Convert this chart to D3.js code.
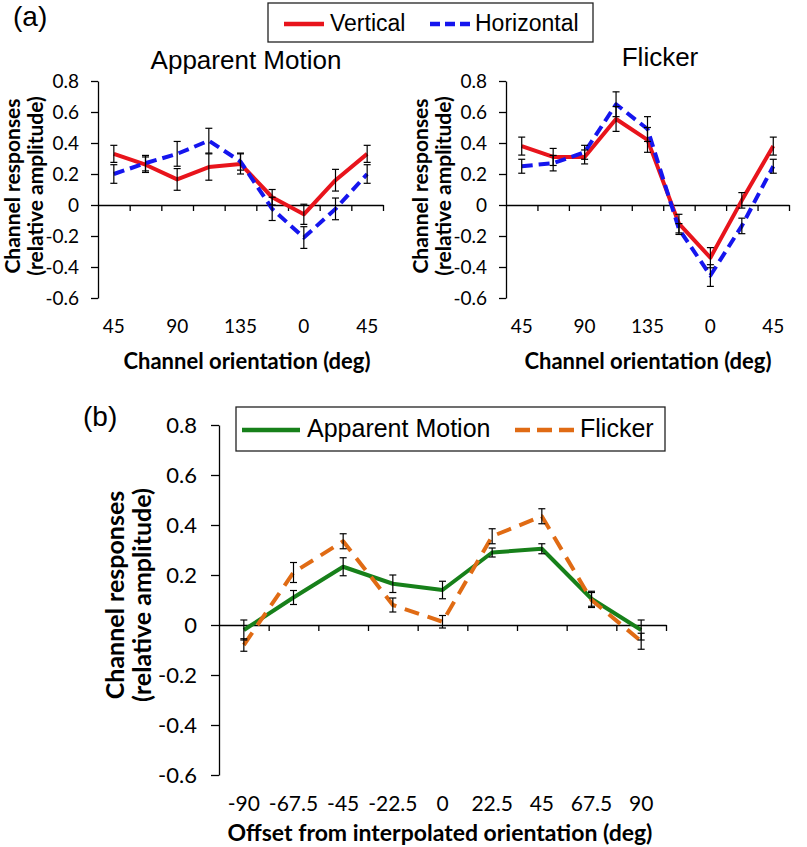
<!DOCTYPE html>
<html><head><meta charset="utf-8">
<script src="https://cdn.jsdelivr.net/npm/d3@7"></script>
<style>body{margin:0;background:#fff}svg{display:block}</style>
</head><body>
<svg id="chart" width="807" height="847"></svg>
<script>
// ---------- data ----------
const categoriesA = ["45","67.5","90","112.5","135","157.5","0","22.5","45"];
const tickLabelsA = ["45","90","135","0","45"];
const tickIndexA = [0,2,4,6,8];

const amVertical      = [0.33, 0.26, 0.165, 0.245, 0.265, 0.05, -0.06, 0.16, 0.33];
const amVerticalErr   = [0.055, 0.05, 0.07, 0.085, 0.065, 0.05, 0.065, 0.07, 0.055];
const amHorizontal    = [0.20, 0.27, 0.33, 0.415, 0.28, -0.025, -0.21, -0.025, 0.20];
const amHorizontalErr = [0.06, 0.05, 0.08, 0.08, 0.055, 0.075, 0.07, 0.07, 0.06];

const flVertical      = [0.38, 0.31, 0.31, 0.555, 0.42, -0.12, -0.34, 0.03, 0.38];
const flVerticalErr   = [0.058, 0.055, 0.045, 0.08, 0.08, 0.06, 0.065, 0.05, 0.058];
const flHorizontal    = [0.25, 0.27, 0.34, 0.65, 0.49, -0.155, -0.455, -0.135, 0.25];
const flHorizontalErr = [0.045, 0.05, 0.045, 0.08, 0.08, 0.035, 0.07, 0.05, 0.045];

const categoriesB = ["-90","-67.5","-45","-22.5","0","22.5","45","67.5","90"];
const bApparent    = [-0.02, 0.11, 0.233, 0.165, 0.14, 0.29, 0.305, 0.105, -0.02];
const bApparentErr = [0.04, 0.028, 0.036, 0.035, 0.035, 0.018, 0.02, 0.03, 0.04];
const bFlicker     = [-0.08, 0.21, 0.335, 0.08, 0.013, 0.355, 0.435, 0.10, -0.065];
const bFlickerErr  = [0.025, 0.04, 0.03, 0.028, 0.025, 0.03, 0.03, 0.03, 0.032];

const yTicks = [-0.6,-0.4,-0.2,0,0.2,0.4,0.6,0.8];
const yTickLabels = ["-0.6","-0.4","-0.2","0","0.2","0.4","0.6","0.8"];

// ---------- style ----------
const RED = "#e8141c", BLUE = "#1515ee", GREEN = "#17801a", ORANGE = "#e06b14";
const TICKFONT = "Lato, 'Liberation Sans', sans-serif";
const TITLEFONT = "'Liberation Sans', Arial, sans-serif";

const svg = d3.select("#chart");

function panel(cfg){
  const g = svg.append("g");
  const x = d3.scaleBand().domain(d3.range(cfg.cats.length)).range([cfg.x0, cfg.x1]).padding(0);
  const xb = d3.scaleLinear().domain([0, cfg.cats.length]).range([cfg.x0, cfg.x1]);
  const y = d3.scaleLinear().domain([-0.6, 0.8]).range([cfg.yBot, cfg.yTop]);
  const cx = i => x(i) + x.bandwidth()/2;

  // y axis
  const ya = d3.axisLeft(y).tickValues(yTicks)
      .tickFormat((d,i)=>yTickLabels[i]).tickSizeInner(cfg.yTickLen).tickSizeOuter(0).tickPadding(cfg.yPad);
  const yg = g.append("g").attr("transform",`translate(${cfg.x0},0)`).call(ya);
  yg.selectAll("path,line").attr("stroke","#000").attr("stroke-width",1.3);
  yg.selectAll("text").attr("font-family",TICKFONT).attr("font-size",cfg.yFont).attr("fill","#000");

  // x axis at zero with ticks at category boundaries
  const xa = d3.axisBottom(xb).tickValues(d3.range(1, cfg.cats.length+1))
      .tickFormat("").tickSizeInner(6).tickSizeOuter(0);
  const xg = g.append("g").attr("transform",`translate(0,${y(0)})`).call(xa);
  xg.selectAll("path,line").attr("stroke","#000").attr("stroke-width",1.3);

  // x tick labels
  g.append("g").selectAll("text").data(cfg.xLabelIdx).join("text")
    .attr("x", d=>cx(d)).attr("y", cfg.xLabelY)
    .attr("text-anchor","middle").attr("font-family",TICKFONT).attr("font-size",cfg.xFont)
    .text((d,i)=>cfg.xLabels[i]);

  // lines
  const line = d3.line().x((d,i)=>cx(i)).y(d=>y(d));
  cfg.series.forEach(s=>{
    g.append("path").datum(s.values).attr("d",line).attr("fill","none")
      .attr("stroke",s.color).attr("stroke-width",s.width)
      .attr("stroke-dasharray",s.dash||null).attr("stroke-linejoin","round");
  });
  // error bars
  cfg.series.forEach(s=>{
    const eg = g.append("g").attr("stroke","#000").attr("stroke-width",1.2);
    s.values.forEach((v,i)=>{
      const e = s.err[i], X = cx(i);
      eg.append("line").attr("x1",X).attr("x2",X).attr("y1",y(v+e)).attr("y2",y(v-e));
      eg.append("line").attr("x1",X-3.5).attr("x2",X+3.5).attr("y1",y(v+e)).attr("y2",y(v+e));
      eg.append("line").attr("x1",X-3.5).attr("x2",X+3.5).attr("y1",y(v-e)).attr("y2",y(v-e));
    });
  });

  // y title
  cfg.yTitle.forEach(t=>{
    g.append("text").attr("transform",`translate(${t.x},${cfg.yTitleCy}) rotate(-90)`)
      .attr("text-anchor","middle").attr("font-family",TICKFONT).attr("font-weight","bold")
      .attr("font-size",cfg.yTitleFont).text(t.text);
  });
  // x title
  g.append("text").attr("x",cfg.xTitleX).attr("y",cfg.xTitleY).attr("text-anchor","middle")
    .attr("font-family",TICKFONT).attr("font-weight","bold").attr("font-size",cfg.xTitleFont)
    .text(cfg.xTitle);
  // panel title
  if(cfg.title){
    g.append("text").attr("x",cfg.title.x).attr("y",cfg.title.y).attr("text-anchor","middle")
      .attr("font-family",TITLEFONT).attr("font-size",26).text(cfg.title.text);
  }
}

panel({cats:categoriesA, x0:98, x1:383, yTop:81, yBot:298, yTickLen:7, yPad:12, yFont:19,
  xLabelIdx:tickIndexA, xLabels:tickLabelsA, xLabelY:333, xFont:19,
  series:[{values:amVertical, err:amVerticalErr, color:RED, width:4},
          {values:amHorizontal, err:amHorizontalErr, color:BLUE, width:4, dash:"11,6"}],
  yTitle:[{x:20,text:"Channel responses"},{x:43,text:"(relative amplitude)"}], yTitleCy:186, yTitleFont:21,
  xTitle:"Channel orientation (deg)", xTitleX:247, xTitleY:369, xTitleFont:22,
  title:{text:"Apparent Motion", x:246, y:69}});

panel({cats:categoriesA, x0:506, x1:789, yTop:81, yBot:298, yTickLen:7, yPad:12, yFont:19,
  xLabelIdx:tickIndexA, xLabels:tickLabelsA, xLabelY:333, xFont:19,
  series:[{values:flVertical, err:flVerticalErr, color:RED, width:4},
          {values:flHorizontal, err:flHorizontalErr, color:BLUE, width:4, dash:"11,6"}],
  yTitle:[{x:428,text:"Channel responses"},{x:451,text:"(relative amplitude)"}], yTitleCy:186, yTitleFont:21,
  xTitle:"Channel orientation (deg)", xTitleX:648, xTitleY:369, xTitleFont:22,
  title:{text:"Flicker", x:660, y:66}});

panel({cats:categoriesB, x0:219, x1:666, yTop:425, yBot:775, yTickLen:8, yPad:14, yFont:22,
  xLabelIdx:d3.range(categoriesB.length), xLabels:categoriesB, xLabelY:811, xFont:21,
  series:[{values:bApparent, err:bApparentErr, color:GREEN, width:4},
          {values:bFlicker, err:bFlickerErr, color:ORANGE, width:4, dash:"15,9"}],
  yTitle:[{x:124,text:"Channel responses"},{x:151,text:"(relative amplitude)"}], yTitleCy:595, yTitleFont:25,
  xTitle:"Offset from interpolated orientation (deg)", xTitleX:440, xTitleY:841, xTitleFont:23,
  title:null});

// panel letters
svg.append("text").attr("x",13).attr("y",26).attr("font-family",TITLEFONT).attr("font-size",28).text("(a)");
svg.append("text").attr("x",83).attr("y",426).attr("font-family",TITLEFONT).attr("font-size",28).text("(b)");

// legends
function legend(box, items, fontSize, baseline, lineY){
  const g = svg.append("g");
  g.append("rect").attr("x",box[0]).attr("y",box[1]).attr("width",box[2]-box[0]).attr("height",box[3]-box[1])
    .attr("fill","#fff").attr("stroke","#222").attr("stroke-width",1.3);
  items.forEach(it=>{
    g.append("line").attr("x1",it.l0).attr("x2",it.l1).attr("y1",lineY).attr("y2",lineY)
      .attr("stroke",it.color).attr("stroke-width",4.5).attr("stroke-dasharray",it.dash||null);
    g.append("text").attr("x",it.tx).attr("y",baseline).attr("font-family",TITLEFONT)
      .attr("font-size",fontSize).text(it.text);
  });
}
legend([268,3,593,42],[
  {l0:284,l1:324,color:RED,tx:330,text:"Vertical"},
  {l0:430,l1:470,color:BLUE,dash:"10,5",tx:475,text:"Horizontal"}], 23, 31, 24);
legend([236,407,665,451],[
  {l0:242,l1:300,color:GREEN,tx:307,text:"Apparent Motion"},
  {l0:515,l1:574,color:ORANGE,dash:"15,7",tx:580,text:"Flicker"}], 25, 437, 430);
</script>
</body></html>
